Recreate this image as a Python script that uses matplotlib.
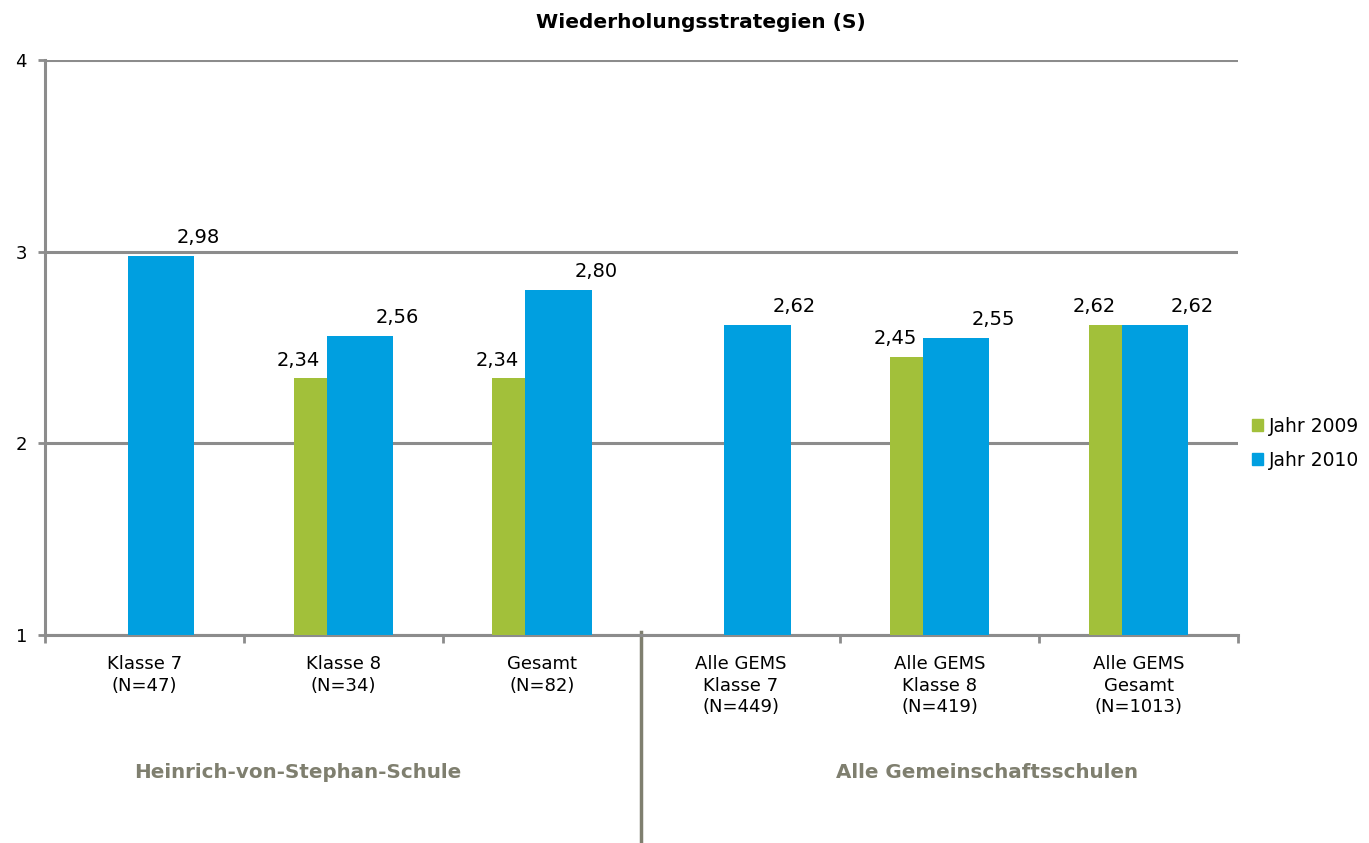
import numpy as np
import matplotlib
matplotlib.use("Agg")
import matplotlib.pyplot as plt
import matplotlib.transforms as mtransforms
from matplotlib.patches import Patch

# Data
categories = ["Klasse 7\n(N=47)", "Klasse 8\n(N=34)", "Gesamt\n(N=82)",
              "Alle GEMS\nKlasse 7\n(N=449)", "Alle GEMS\nKlasse 8\n(N=419)",
              "Alle GEMS\nGesamt\n(N=1013)"]
jahr_2009 = [None, 2.34, 2.34, None, 2.45, 2.62]
jahr_2010 = [2.98, 2.56, 2.80, 2.62, 2.55, 2.62]
groups = ["Heinrich-von-Stephan-Schule", "Alle Gemeinschaftsschulen"]

green = "#A2C03A"
blue = "#009FE0"
grid_gray = "#8C8C8C"
olive = "#7F7F6F"

plt.rcParams["font.family"] = "DejaVu Sans"

fig = plt.figure(figsize=(13.69, 8.43), dpi=100)
ax = fig.add_axes([45 / 1369, 1 - 635 / 843, (1238 - 45) / 1369, 575 / 843])

x = np.arange(len(categories))
w = 0.333
off = 0.083

for i in x:
    if jahr_2009[i] is not None:
        ax.bar(i - off, jahr_2009[i] - 1, w, bottom=1, color=green, zorder=3)
        ax.text(i - 0.224, jahr_2009[i] + 0.045, f"{jahr_2009[i]:.2f}".replace(".", ","),
                ha="center", va="bottom", fontsize=14)
    if jahr_2010[i] is not None:
        ax.bar(i + off, jahr_2010[i] - 1, w, bottom=1, color=blue, zorder=4)
        ax.text(i + 0.27, jahr_2010[i] + 0.045, f"{jahr_2010[i]:.2f}".replace(".", ","),
                ha="center", va="bottom", fontsize=14)

ax.set_xlim(-0.5, len(categories) - 0.5)
ax.set_ylim(1, 4)
ax.set_yticks([1, 2, 3, 4])
ax.set_yticklabels(["1", "2", "3", "4"], fontsize=13)
ax.yaxis.grid(True, color=grid_gray, linewidth=2.2, zorder=1)
ax.set_axisbelow(True)

# category boundaries as ticks, labels below centers
ax.set_xticks(np.arange(-0.5, len(categories)), minor=False)
ax.set_xticklabels([])
ax.tick_params(axis="x", length=6, width=2, color=grid_gray, direction="out")
ax.tick_params(axis="y", length=5, width=2, color=grid_gray, direction="out", pad=8)
trans = mtransforms.blended_transform_factory(ax.transData, ax.transAxes)
for i, lab in enumerate(categories):
    ax.text(i, -0.035, lab, transform=trans,
            ha="center", va="top", fontsize=13, linespacing=1.25)

for s in ["top", "right"]:
    ax.spines[s].set_visible(False)
ax.spines["left"].set_color(grid_gray)
ax.spines["left"].set_linewidth(2.2)
ax.spines["bottom"].set_color(grid_gray)
ax.spines["bottom"].set_linewidth(2.2)

# group separator and group labels
ax.plot([2.5, 2.5], [0.005, -0.37], color=olive, linewidth=2.5, transform=trans, clip_on=False)
ax.text(0.77, -0.24, groups[0], transform=trans, ha="center", va="center",
        fontsize=14.3, fontweight="bold", color=olive)
ax.text(4.24, -0.24, groups[1], transform=trans, ha="center", va="center",
        fontsize=14.3, fontweight="bold", color=olive)

fig.text(701 / 1369, 1 - 22 / 843, "Wiederholungsstrategien (S)", ha="center", va="center",
         fontsize=14.5, fontweight="bold")

handles = [Patch(color=green, label="Jahr 2009"), Patch(color=blue, label="Jahr 2010")]
fig.legend(handles=handles, loc="center left", bbox_to_anchor=(1252 / 1369, 1 - 443 / 843),
           frameon=False, fontsize=13.5, handlelength=0.6, handleheight=0.6,
           handletextpad=0.3, labelspacing=0.8, borderpad=0, borderaxespad=0)

fig.savefig("out.png", dpi=100)
